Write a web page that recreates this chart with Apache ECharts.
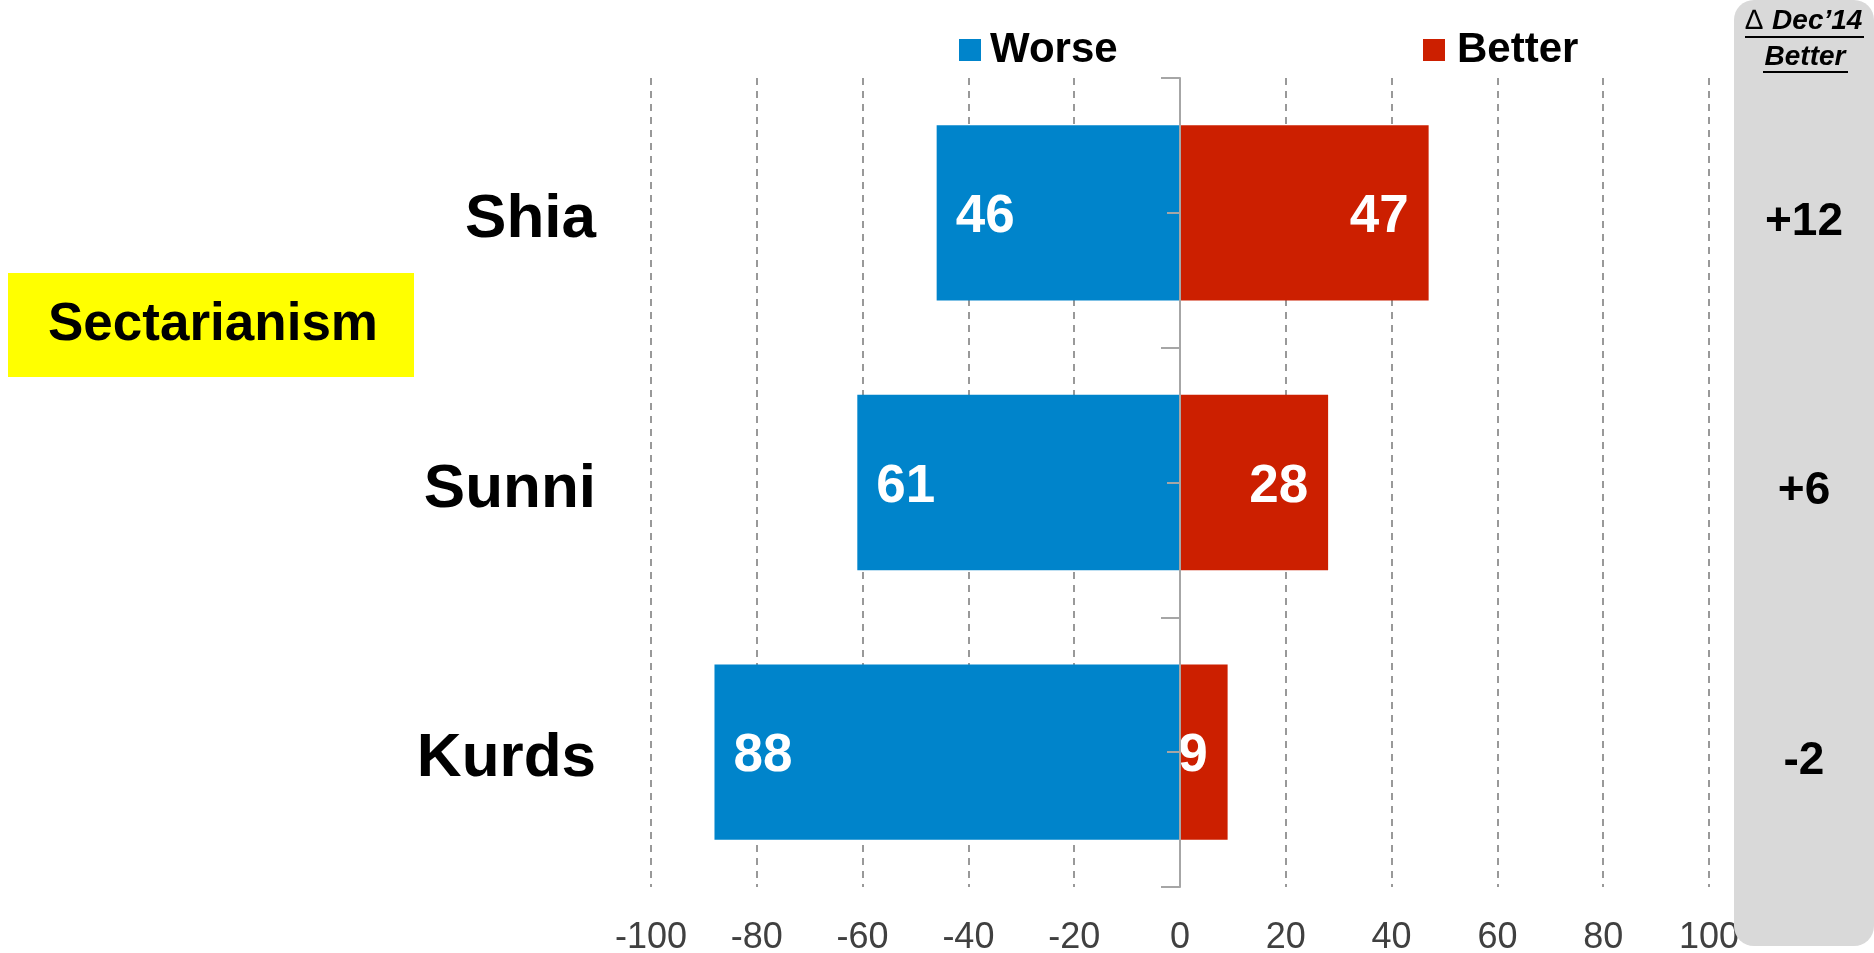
<!DOCTYPE html>
<html>
<head>
<meta charset="utf-8">
<title>Sectarianism</title>
<script src="https://cdn.jsdelivr.net/npm/echarts@6/dist/echarts.min.js"></script>
<style>
  html, body { margin: 0; padding: 0; background: #ffffff; }
  #chart { width: 1874px; height: 953px; }
</style>
</head>
<body>
<div id="chart"></div>
<script>
// Groups shown on the category axis (top to bottom)
const categories = ['Shia', 'Sunni', 'Kurds'];
// Share saying things got worse / better (percent)
const worse = [46, 61, 88];
const better = [47, 28, 9];
// Change in "Better" since December 2014
const changeVsDec14 = ['+12', '+6', '-2'];
// Value axis range and step
const axisMin = -100;
const axisMax = 100;
const axisStep = 20;

const FONT = "'Liberation Sans', Arial, Helvetica, sans-serif";
const BLUE = '#0084CB';
const RED = '#CC1F00';
const AXIS_GRAY = '#a6a6a6';

const GRID_LEFT = 651;
const GRID_RIGHT = 165;
const PLOT_W = 1874 - GRID_LEFT - GRID_RIGHT;
// horizontal distance from the plot's left edge to the zero line
const ZERO_OFFSET = PLOT_W * (0 - axisMin) / (axisMax - axisMin);

// white value text inside the bars, nudged slightly below the bar centre
const valueRich = {
  v: { fontFamily: FONT, fontSize: 53, fontWeight: 'bold', color: '#fff', padding: [9, 0, 0, 0] }
};

const chart = echarts.init(document.getElementById('chart'), null, { renderer: 'canvas' });

const option = {
  backgroundColor: '#ffffff',
  animation: false,
  textStyle: { fontFamily: FONT },
  grid: {
    left: GRID_LEFT, right: GRID_RIGHT, top: 78, bottom: 66,
    containLabel: false, outerBoundsMode: 'none'
  },
  legend: [
    {
      data: ['Worse'],
      left: 959, top: 29, padding: 0,
      icon: 'rect', itemWidth: 22, itemHeight: 22,
      selectedMode: false,
      textStyle: { fontFamily: FONT, fontSize: 42, fontWeight: 'bold', color: '#000', padding: [0, 0, 0, 4] }
    },
    {
      data: ['Better'],
      left: 1423, top: 29, padding: 0,
      icon: 'rect', itemWidth: 22, itemHeight: 22,
      selectedMode: false,
      textStyle: { fontFamily: FONT, fontSize: 42, fontWeight: 'bold', color: '#000', padding: [0, 0, 0, 7] }
    }
  ],
  xAxis: {
    type: 'value',
    min: axisMin, max: axisMax, interval: axisStep,
    axisLine: { show: false },
    axisTick: { show: false },
    axisLabel: { fontFamily: FONT, fontSize: 36, color: '#404040', margin: 33 },
    splitLine: { show: true, lineStyle: { color: '#999999', width: 2, type: [7, 6] } }
  },
  yAxis: [
    {
      // main category axis sitting on zero, ticks on band boundaries
      type: 'category', data: categories, inverse: true, z: 3,
      axisLine: { show: true, onZero: true, lineStyle: { color: AXIS_GRAY, width: 2 } },
      axisTick: { show: true, alignWithLabel: false, length: 19, lineStyle: { color: AXIS_GRAY, width: 2 } },
      axisLabel: {
        margin: 55, align: 'right',
        formatter: v => '{c|' + v + '}',
        rich: { c: { fontFamily: FONT, fontSize: 62, fontWeight: 'bold', color: '#000', padding: [14, 0, 0, 0] } }
      },
      splitLine: { show: false }
    },
    {
      // short ticks at the middle of each band, placed on the zero line
      type: 'category', data: categories, inverse: true, z: 3,
      position: 'left', offset: -ZERO_OFFSET,
      axisLine: { show: false, onZero: false },
      axisTick: { show: true, alignWithLabel: true, length: 13, lineStyle: { color: AXIS_GRAY, width: 2 } },
      axisLabel: { show: false },
      splitLine: { show: false }
    },
    {
      // change column on the right
      type: 'category', data: changeVsDec14, inverse: true, position: 'right', z: 20,
      axisLine: { show: false, onZero: false },
      axisTick: { show: false },
      axisLabel: {
        margin: 95, align: 'center',
        formatter: v => '{d|' + v + '}',
        rich: { d: { fontFamily: FONT, fontSize: 46, fontWeight: 'bold', color: '#000', padding: [18, 0, 0, 0] } }
      },
      splitLine: { show: false }
    }
  ],
  series: [
    {
      name: 'Worse', type: 'bar', yAxisIndex: 0,
      barWidth: '65%', barGap: '-100%',
      itemStyle: { color: BLUE },
      data: worse.map(v => -v),
      label: {
        show: true, position: 'insideLeft', distance: 19,
        formatter: p => '{v|' + Math.abs(p.value) + '}',
        rich: valueRich
      }
    },
    {
      name: 'Better', type: 'bar', yAxisIndex: 0,
      barWidth: '65%', barGap: '-100%',
      itemStyle: { color: RED },
      data: better,
      label: {
        show: true, position: 'insideRight', distance: 20,
        formatter: p => '{v|' + p.value + '}',
        rich: valueRich
      }
    }
  ],
  graphic: [
    // side panel with the change column
    {
      type: 'rect', z: 10,
      shape: { x: 1734, y: 0, width: 140, height: 946, r: 20 },
      style: { fill: '#d9d9d9' }
    },
    {
      type: 'text', z: 21, x: 1804, y: 21,
      style: {
        text: '{t|∆} {h|Dec’14}',
        align: 'center', verticalAlign: 'middle',
        rich: {
          t: { fontFamily: FONT, fontSize: 28, color: '#000', padding: [0, 6, 0, 0] },
          h: { fontFamily: FONT, fontSize: 28, fontWeight: 'bold', fontStyle: 'italic', color: '#000' }
        }
      }
    },
    {
      type: 'line', z: 21,
      shape: { x1: 1745, y1: 37, x2: 1864, y2: 37 },
      style: { stroke: '#000', lineWidth: 2 }
    },
    {
      type: 'text', z: 21, x: 1805, y: 57,
      style: {
        text: 'Better', align: 'center', verticalAlign: 'middle',
        fontFamily: FONT, fontSize: 28, fontWeight: 'bold', fontStyle: 'italic', fill: '#000'
      }
    },
    {
      type: 'line', z: 21,
      shape: { x1: 1763, y1: 72, x2: 1848, y2: 72 },
      style: { stroke: '#000', lineWidth: 2 }
    },
    // topic tag
    {
      type: 'rect', z: 10,
      shape: { x: 8, y: 273, width: 406, height: 104 },
      style: { fill: '#ffff00' }
    },
    {
      type: 'text', z: 11, x: 213, y: 325,
      style: {
        text: 'Sectarianism', align: 'center', verticalAlign: 'middle',
        fontFamily: FONT, fontSize: 53, fontWeight: 'bold', fill: '#000'
      }
    }
  ]
};

chart.setOption(option);
</script>
</body>
</html>
